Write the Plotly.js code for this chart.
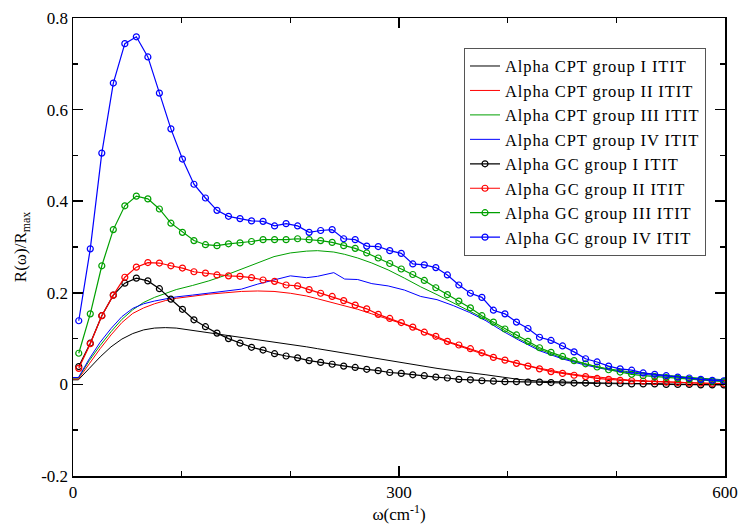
<!DOCTYPE html>
<html>
<head>
<meta charset="utf-8">
<script src="https://cdn.plot.ly/plotly-3.0.1.min.js"></script>
<style>
html,body{margin:0;padding:0;background:#fff;}
#chart{width:740px;height:526px;}
.legendtext{letter-spacing:0.9px;}
</style>
</head>
<body>
<div id="chart"></div>
<script>
// CPT curves (lines only)
const omegaCPT = [0,5,15,25,35,45,55,65,75,85,95,110,125,140,155,170,185,200,215,225,240,250,262,275,290,305,320,335,350,365,380,395,410,430,450,470,490,510,530,550,575,600];
const cptI   = [0.010,0.010,0.035,0.060,0.082,0.099,0.111,0.119,0.123,0.124,0.123,0.118,0.113,0.108,0.102,0.097,0.092,0.087,0.082,0.078,0.072,0.068,0.063,0.058,0.052,0.046,0.040,0.035,0.030,0.026,0.021,0.016,0.011,0.007,0.005,0.004,0.003,0.002,0.002,0.001,0.000,0.000];
const cptII  = [0.012,0.012,0.045,0.078,0.108,0.135,0.155,0.167,0.176,0.183,0.188,0.193,0.197,0.200,0.203,0.204,0.203,0.199,0.193,0.187,0.178,0.172,0.164,0.154,0.143,0.131,0.117,0.101,0.088,0.076,0.064,0.054,0.045,0.035,0.026,0.019,0.014,0.010,0.007,0.005,0.003,0.002];
const cptIII = [0.014,0.014,0.052,0.085,0.115,0.142,0.163,0.179,0.190,0.199,0.207,0.216,0.226,0.238,0.252,0.266,0.279,0.287,0.291,0.292,0.289,0.284,0.276,0.265,0.250,0.232,0.213,0.196,0.178,0.160,0.142,0.121,0.100,0.076,0.058,0.045,0.035,0.028,0.023,0.019,0.014,0.010];
const cptIV  = [0.015,0.015,0.056,0.092,0.122,0.148,0.166,0.176,0.182,0.187,0.191,0.195,0.199,0.203,0.208,0.219,0.228,0.237,0.233,0.236,0.244,0.230,0.229,0.220,0.215,0.206,0.192,0.185,0.172,0.157,0.139,0.117,0.097,0.073,0.056,0.043,0.033,0.026,0.021,0.017,0.012,0.009];

// GC curves (lines + open circles)
const omegaGC = [5.3,15.9,26.5,37.1,47.7,58.3,68.9,79.5,90.1,100.7,111.3,121.9,132.5,143.1,153.7,164.3,174.9,185.5,196.1,206.7,217.3,227.9,238.5,249.1,259.7,270.3,280.9,291.5,302.1,312.7,323.3,333.9,344.5,355.1,365.7,376.3,386.9,397.5,408.1,418.7,429.3,439.9,450.5,461.1,471.7,482.3,492.9,503.5,514.1,524.7,535.3,545.9,556.5,567.1,577.7,588.3,598.9];
const gcI   = [0.039,0.090,0.150,0.195,0.221,0.232,0.226,0.209,0.186,0.164,0.141,0.126,0.112,0.100,0.090,0.081,0.075,0.067,0.062,0.058,0.052,0.048,0.044,0.040,0.037,0.033,0.030,0.026,0.024,0.021,0.019,0.016,0.014,0.011,0.010,0.008,0.007,0.006,0.006,0.005,0.005,0.004,0.004,0.003,0.003,0.002,0.002,0.002,0.001,0.001,0.001,0.000,0.000,0.000,-0.001,-0.001,-0.001];
const gcII  = [0.035,0.089,0.150,0.195,0.234,0.256,0.266,0.265,0.259,0.254,0.246,0.243,0.239,0.237,0.236,0.233,0.228,0.225,0.217,0.215,0.207,0.199,0.192,0.183,0.173,0.165,0.153,0.144,0.135,0.125,0.114,0.105,0.094,0.086,0.078,0.069,0.059,0.053,0.046,0.040,0.034,0.028,0.024,0.020,0.017,0.013,0.011,0.009,0.008,0.007,0.006,0.005,0.004,0.003,0.003,0.002,0.002];
const gcIII = [0.068,0.154,0.259,0.338,0.390,0.411,0.405,0.383,0.352,0.332,0.314,0.305,0.303,0.307,0.309,0.312,0.316,0.316,0.316,0.318,0.316,0.314,0.310,0.303,0.297,0.287,0.276,0.264,0.252,0.240,0.227,0.211,0.196,0.182,0.167,0.150,0.136,0.121,0.108,0.094,0.080,0.070,0.061,0.052,0.045,0.038,0.032,0.027,0.022,0.019,0.017,0.015,0.013,0.011,0.009,0.007,0.006];
const gcIV  = [0.139,0.296,0.505,0.658,0.744,0.759,0.715,0.636,0.558,0.492,0.437,0.407,0.380,0.367,0.362,0.357,0.356,0.346,0.351,0.346,0.332,0.336,0.338,0.318,0.316,0.302,0.301,0.292,0.286,0.263,0.261,0.255,0.239,0.217,0.199,0.190,0.162,0.154,0.136,0.122,0.103,0.096,0.084,0.071,0.056,0.049,0.040,0.034,0.031,0.025,0.022,0.019,0.016,0.014,0.011,0.009,0.008];

const names = ['Alpha CPT group I ITIT','Alpha CPT group II ITIT','Alpha CPT group III ITIT','Alpha CPT group IV ITIT',
               'Alpha GC group I ITIT','Alpha GC group II ITIT','Alpha GC group III ITIT','Alpha GC group IV ITIT'];
const colors = ['#000000','#ff0000','#00a000','#0000ff'];

const xTickVals = [0,300,600];
const xTickText = ['0','300','600'];
const yTickVals = [-0.2,0,0.2,0.4,0.6,0.8];
const yTickText = ['-0.2','0','0.2','0.4','0.6','0.8'];

const cpt = [cptI,cptII,cptIII,cptIV];
const gc = [gcI,gcII,gcIII,gcIV];
const traces = [];
cpt.forEach((ys,i)=>traces.push({
  x: omegaCPT, y: ys, type:'scatter', mode:'lines', name:names[i],
  line:{color:colors[i], width:1}
}));
gc.forEach((ys,i)=>traces.push({
  x: omegaGC, y: ys, type:'scatter', mode:'lines+markers', name:names[4+i],
  line:{color:colors[i], width:1.2},
  marker:{symbol:'circle-open', size:6, color:colors[i], line:{width:1.2, color:colors[i]}}
}));

const fontFam = '"Liberation Serif", "Times New Roman", serif';
const layout = {
  width:740, height:526,
  margin:{l:73, r:15, t:18, b:50},
  paper_bgcolor:'#fff', plot_bgcolor:'#fff',
  font:{family:fontFam, color:'#000', size:17},
  showlegend:true,
  legend:{x:0.5997, y:0.935, xanchor:'left', yanchor:'top',
    bgcolor:'#fff', bordercolor:'#555', borderwidth:1,
    font:{family:fontFam, size:16.5, color:'#000'}, itemwidth:30, tracegroupgap:0},
  xaxis:{range:[0,600], tickvals:xTickVals, ticktext:xTickText,
    ticks:'inside', ticklen:10, tickwidth:1.5, tickcolor:'#000',
    minor:{dtick:100, tick0:0, ticks:'inside', ticklen:5, tickwidth:1.5, tickcolor:'#000'},
    showline:true, linecolor:'#000', linewidth:1.5, mirror:'ticks',
    showgrid:false, zeroline:false,
    tickfont:{family:fontFam, size:17, color:'#000'},
    title:{text:'ω(cm<sup>-1</sup>)', font:{family:fontFam, size:17, color:'#000'}, standoff:5}},
  yaxis:{range:[-0.2,0.8], tickvals:yTickVals, ticktext:yTickText,
    ticks:'inside', ticklen:10, tickwidth:1.5, tickcolor:'#000',
    minor:{dtick:0.1, tick0:0, ticks:'inside', ticklen:5, tickwidth:1.5, tickcolor:'#000'},
    showline:true, linecolor:'#000', linewidth:1.5, mirror:'ticks',
    showgrid:false, zeroline:false,
    tickfont:{family:fontFam, size:17, color:'#000'},
    title:{text:'R(ω)/R<sub>max</sub>', font:{family:fontFam, size:17, color:'#000'}, standoff:10}}
};
Plotly.newPlot('chart', traces, layout, {displayModeBar:false, staticPlot:true});
</script>
</body>
</html>
